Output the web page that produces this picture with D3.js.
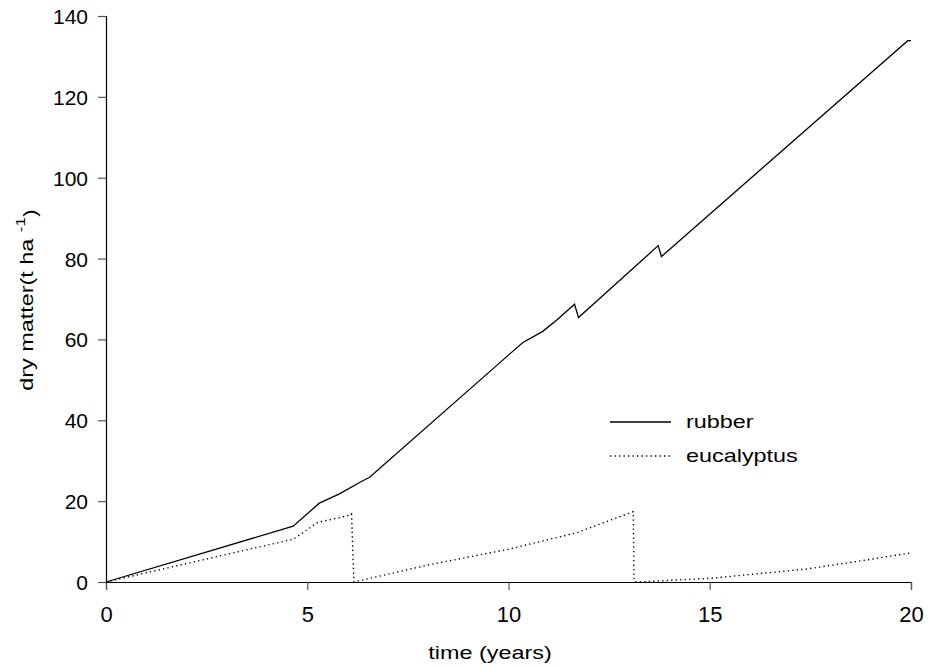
<!DOCTYPE html>
<html>
<head>
<meta charset="utf-8">
<script src="https://cdn.jsdelivr.net/npm/d3@7"></script>
<style>
    body { margin: 0; background: #fff; }
    text { font-family: "Liberation Sans", Arial, sans-serif; fill: #000; }
</style>
</head>
<body>
<div id="vis"></div>
<script>
// Chart data -----------------------------------------------------------------

const rubberYears = [0, 4.65, 5.3, 5.8, 6.3, 6.55, 10.35, 10.85, 11.2, 11.64, 11.74,
    13.72, 13.8, 19.92, 20];
const rubberDM = [0, 13.8, 19.5, 21.8, 24.6, 25.9, 59.2, 62, 64.8, 68.7, 65.4,
    83.2, 80.5, 133.9, 133.9];

const eucYears = [0, 4.66, 5.25, 6.05, 6.1, 6.16, 8, 10, 11.7, 13.1, 13.12,
    13.2, 15, 17.4, 18.6, 20];
const eucDM = [0, 10.6, 14.7, 16.5, 16.8, 0, 4.2, 8.1, 12.2, 17.4, 0.2,
    0, 0.9, 3.2, 5, 7.2];

const xTicks = [0, 5, 10, 15, 20];
const yTicks = [0, 20, 40, 60, 80, 100, 120, 140];

const seriesNames = ["rubber", "eucalyptus"];

// Chart setup ----------------------------------------------------------------

const W = 930;
const H = 667;
const margin = {top: 16, right: 19, bottom: 85, left: 106};
const width = W - margin.left - margin.right;
const height = H - margin.top - margin.bottom;

// the original lettering is wider than Liberation Sans, so stretch it a bit
const STRETCH = 1.3;

const svg = d3.select("#vis")
    .append("svg")
    .attr("width", W)
    .attr("height", H);

const vis = svg.append("g")
    .attr("transform", `translate(${margin.left},${margin.top})`);

const xscale = d3.scaleLinear().domain([0, 20]).range([0, width]);
const yscale = d3.scaleLinear().domain([0, 140]).range([height, 0]);

// Axes
const xaxis = vis.append("g")
    .attr("transform", `translate(0,${height})`)
    .call(d3.axisBottom(xscale).tickValues(xTicks).tickSize(8).tickPadding(16));

const yaxis = vis.append("g")
    .call(d3.axisLeft(yscale).tickValues(yTicks).tickSize(8).tickPadding(10));

[xaxis, yaxis].forEach(ax => {
    ax.select(".domain").attr("stroke", "#000").attr("stroke-width", 1.2);
    ax.selectAll(".tick line").attr("stroke", "#555").attr("stroke-width", 1.2);
    ax.selectAll(".tick text")
        .style("font-family", "Liberation Sans, Arial, sans-serif")
        .attr("fill", "#000");
});
xaxis.selectAll(".tick text").style("font-size", "22px");
yaxis.selectAll(".tick text").style("font-size", "21px").attr("dy", "0.36em");

// Axis labels
svg.append("text")
    .attr("transform", `translate(490,659) scale(${STRETCH},1)`)
    .style("text-anchor", "middle")
    .style("font-size", "18px")
    .text("time (years)");

const ylab = svg.append("text")
    .attr("transform", `translate(33,300) rotate(-90) scale(${STRETCH},1)`)
    .style("text-anchor", "middle")
    .style("font-size", "18px");
ylab.append("tspan").text("dry matter(t ha ");
ylab.append("tspan").attr("dy", "-0.65em").style("font-size", "13px").text("-1");
ylab.append("tspan").attr("dy", "0.65em").text(")");

// Lines
const line = d3.line()
    .x(d => xscale(d[0]))
    .y(d => yscale(d[1]));

vis.append("path")
    .datum(rubberYears.map((x, i) => [x, rubberDM[i]]))
    .attr("fill", "none")
    .attr("stroke", "#000")
    .attr("stroke-width", 1.3)
    .attr("d", line);

vis.append("path")
    .datum(eucYears.map((x, i) => [x, eucDM[i]]))
    .attr("fill", "none")
    .attr("stroke", "#000")
    .attr("stroke-width", 1.4)
    .attr("stroke-dasharray", "1.3,3.2")
    .attr("d", line);

// Legend
const legend = svg.append("g").attr("transform", "translate(610,422)");
seriesNames.forEach((name, i) => {
    const g = legend.append("g").attr("transform", `translate(0,${i * 34})`);
    g.append("line")
        .attr("x1", 0).attr("x2", 61)
        .attr("stroke", "#000")
        .attr("stroke-width", i === 0 ? 1.3 : 1.4)
        .attr("stroke-dasharray", i === 0 ? null : "1.3,3.2");
    g.append("text")
        .attr("transform", `translate(76,0) scale(${STRETCH},1)`)
        .attr("dy", "0.35em")
        .style("font-size", "18px")
        .text(name);
});
</script>
</body>
</html>
